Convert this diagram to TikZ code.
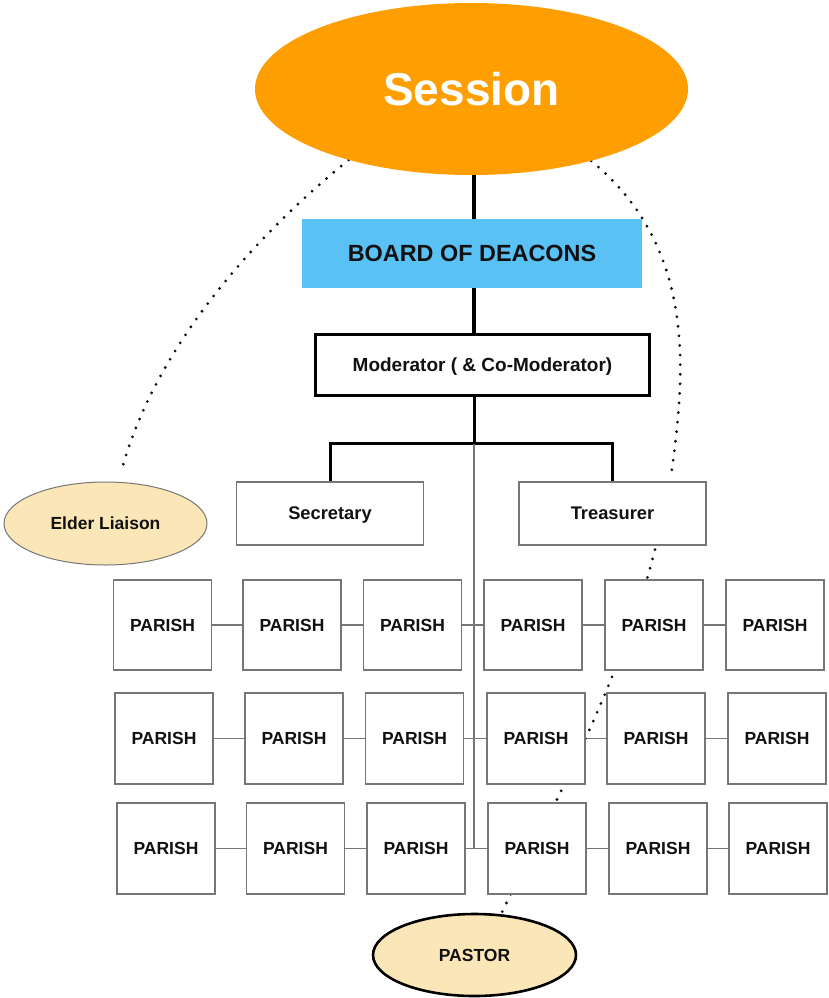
\documentclass[tikz,border=0pt]{standalone}
\usepackage{fontspec}
\setmainfont{Liberation Sans}
\usetikzlibrary{shapes.geometric,backgrounds,calc}

\definecolor{sessionorange}{RGB}{255,158,0}
\definecolor{boardblue}{RGB}{90,193,245}
\definecolor{liaisonfill}{RGB}{251,230,183}
\definecolor{boxgray}{RGB}{118,118,118}
\definecolor{inkblack}{RGB}{17,17,17}

\begin{document}
\begin{tikzpicture}[x=1pt,y=-1pt,
  every node/.style={text=inkblack, inner sep=0pt},
  parish/.style={draw=boxgray, line width=1.3pt, fill=white,
    minimum width=98pt, minimum height=90pt,
    font=\bfseries\fontsize{17.5}{20}\selectfont},
  office/.style={draw=boxgray, line width=1.3pt, fill=white,
    minimum width=187pt, minimum height=63pt, text depth=0pt,
    font=\bfseries\fontsize{18.3}{21}\selectfont},
  oval/.style={ellipse, fill=liaisonfill,
    font=\bfseries\fontsize{17.5}{20}\selectfont},
  trunkline/.style={line width=3.8pt, black},
  branchline/.style={line width=3pt, black, line join=miter},
  link/.style={draw=boxgray, line width=1.1pt},
  dotline/.style={line width=3.1pt, line cap=round,
    dash pattern=on 0pt off 9.6pt, inkblack},
]
\useasboundingbox (0,0) rectangle (828,998);

% top of the hierarchy
\node[ellipse, fill=sessionorange, minimum width=433pt, minimum height=172pt,
      text=white, font=\bfseries\fontsize{46}{50}\selectfont]
      (session) at (471.5,89) {Session};
\node[fill=boardblue, minimum width=340pt, minimum height=69pt,
      font=\bfseries\fontsize{23.4}{26}\selectfont]
      (board) at (472,253.5) {BOARD OF DEACONS};
\node[draw=black, line width=3pt, fill=white, minimum width=334pt, minimum height=61pt,
      text depth=0pt, font=\bfseries\fontsize{19}{22}\selectfont]
      (moderator) at (482.5,365) {Moderator ( \& Co-Moderator)};

% officers and liaisons
\node[office] (secretary) at (330,513.5) {Secretary};
\node[office] (treasurer) at (612.5,513.5) {Treasurer};
\node[oval, draw=boxgray, line width=1pt, minimum width=203pt, minimum height=83pt]
      (elder) at (105.5,523.5) {Elder Liaison};
\node[oval, draw=black, line width=2.6pt, minimum width=203pt, minimum height=82pt]
      (pastor) at (474.5,955) {PASTOR};

% parish grid
\node[parish] (p11) at (162.5,625) {PARISH};
\node[parish] (p12) at (292,625) {PARISH};
\node[parish] (p13) at (412.5,625) {PARISH};
\node[parish] (p14) at (533,625) {PARISH};
\node[parish] (p15) at (654,625) {PARISH};
\node[parish] (p16) at (775,625) {PARISH};

\node[parish, minimum height=91pt] (p21) at (164,738.5) {PARISH};
\node[parish, minimum height=91pt] (p22) at (294,738.5) {PARISH};
\node[parish, minimum height=91pt] (p23) at (414.5,738.5) {PARISH};
\node[parish, minimum height=91pt] (p24) at (536,738.5) {PARISH};
\node[parish, minimum height=91pt] (p25) at (656,738.5) {PARISH};
\node[parish, minimum height=91pt] (p26) at (777,738.5) {PARISH};

\node[parish, minimum height=91pt] (p31) at (166,848.5) {PARISH};
\node[parish, minimum height=91pt] (p32) at (295.5,848.5) {PARISH};
\node[parish, minimum height=91pt] (p33) at (416,848.5) {PARISH};
\node[parish, minimum height=91pt] (p34) at (537,848.5) {PARISH};
\node[parish, minimum height=91pt] (p35) at (658,848.5) {PARISH};
\node[parish, minimum height=91pt] (p36) at (778,848.5) {PARISH};

\coordinate (spine) at (474,0);
\coordinate (fork) at (474,443.5);

\begin{pgfonlayer}{background}
  \fill[white] (0,0) rectangle (828,998);

  % chain of command
  \draw[trunkline] (session.south -| spine) -- (moderator.north -| spine);
  \draw[branchline] (moderator.south -| spine) -- (fork);
  \draw[branchline] (secretary.north) |- (fork) -| (treasurer.north);
  \draw[link] (fork) -- (fork |- p33.east);

  % parish links
  \foreach \r in {1,2,3}{
    \draw[link] (p\r1.east) -- (p\r2.west);
    \draw[link] (p\r2.east) -- (p\r3.west);
    \draw[link] (p\r3.east) -- (p\r4.west);
    \draw[link] (p\r4.east) -- (p\r5.west);
    \draw[link] (p\r5.east) -- (p\r6.west);
  }

  % advisory ties
  \draw[dotline] (session.210) .. controls (238,250) and (151,360)
        .. ([shift={(15.5,-9)}]elder.north);
  \draw[dotline] (session.-31) .. controls (700,250) and (684,380)
        .. ([shift={(58.5,-5)}]treasurer.north);
  \draw[dotline] ([shift={(42.5,4)}]treasurer.south) .. controls (625,668) and (561,791)
        .. (pastor.57);
\end{pgfonlayer}
\end{tikzpicture}
\end{document}
